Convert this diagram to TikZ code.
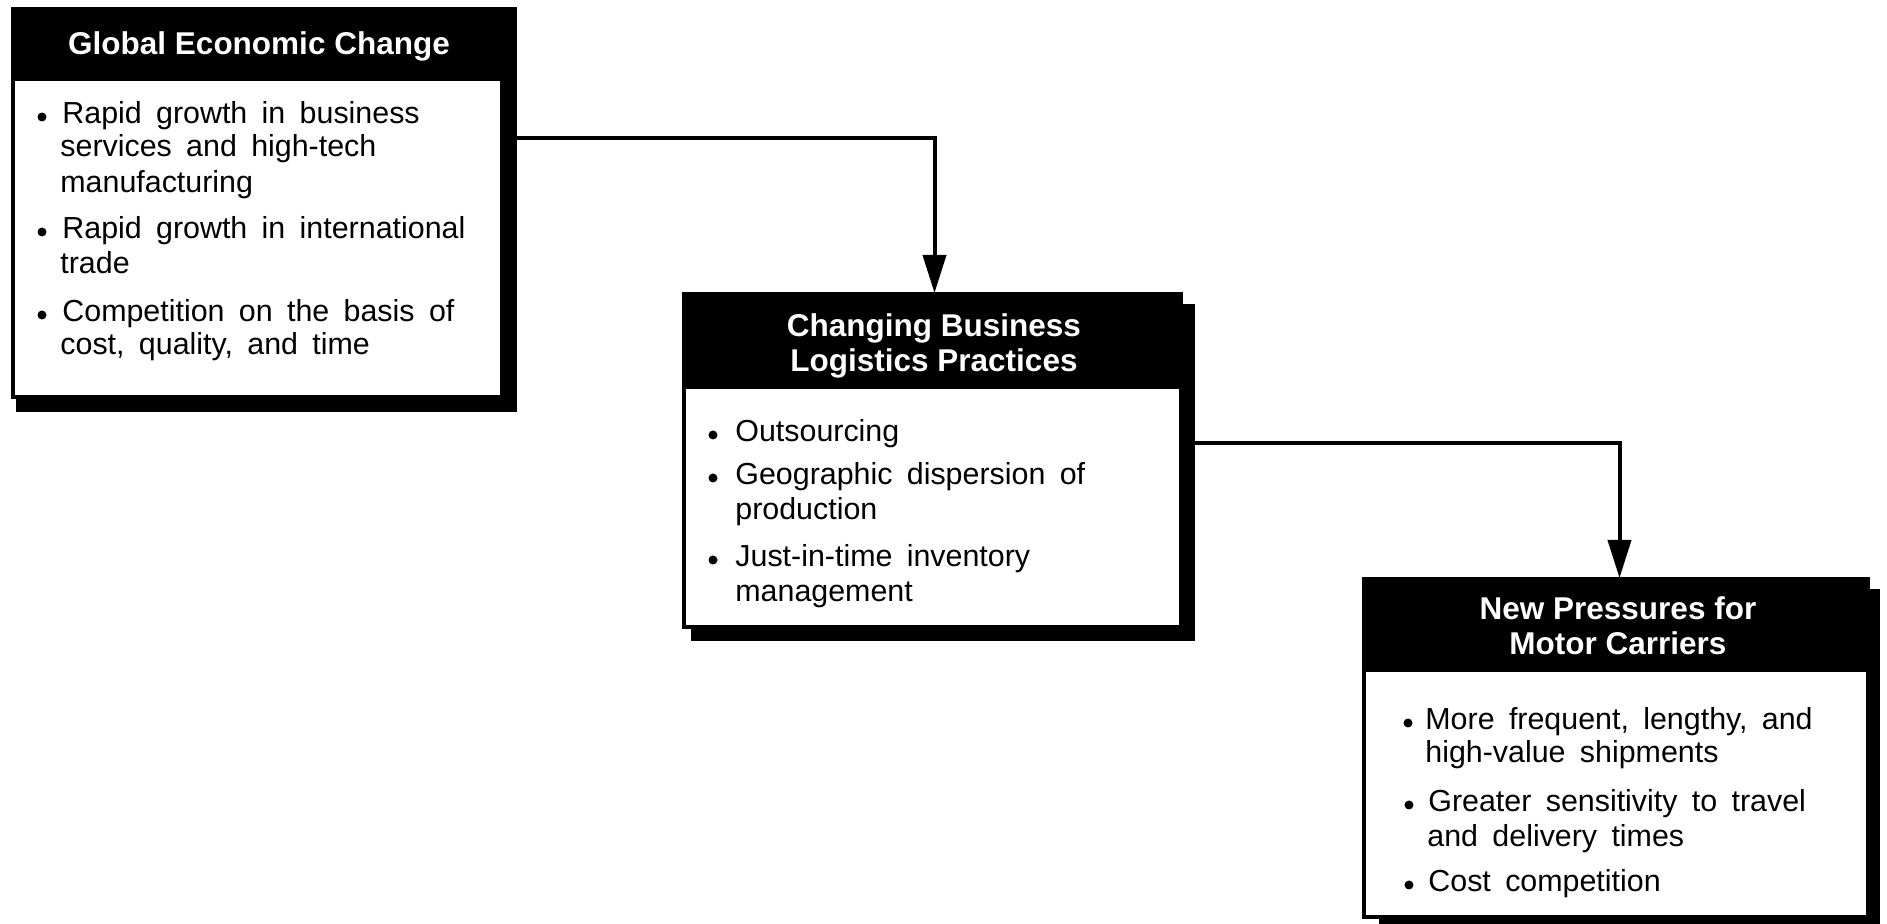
\documentclass[tikz,border=0pt]{standalone}
\usepackage{fontspec}
\setmainfont{Liberation Sans}
\newfontfamily\bodyfam{Liberation Sans}[WordSpace=1.7]
\newcommand\myBody{\bodyfam\fontsize{15.2pt}{17pt}\selectfont}
\newcommand\myHead{\fontsize{15.75pt}{17pt}\selectfont\bfseries}
\usetikzlibrary{arrows.meta}
\tikzset{
  shadowbox/.style={fill=black, inner sep=0, outer sep=0, anchor=north west},
  bodybox/.style={fill=white, draw=black, line width=2pt, inner sep=0, outer sep=0, anchor=north west},
  headbox/.style={fill=black, inner sep=0, outer sep=0, anchor=north west},
  headtext/.style={text=white, font=\myHead, anchor=base, inner sep=0},
  bodytext/.style={font=\myBody, anchor=base west, inner sep=0},
  dot/.style={circle, fill=black, minimum size=4.5pt, inner sep=0},
  conn/.style={line width=2pt, -{Triangle[width=11.5pt,length=19pt]}}
}
\begin{document}
\begin{tikzpicture}[x=0.5pt, y=-0.5pt]
\useasboundingbox (0,0) rectangle (1887,924);
% Box 1
\node[shadowbox, minimum width=501*0.5pt, minimum height=405*0.5pt] (s1) at (16,7) {};
\node[bodybox, minimum width=489*0.5pt, minimum height=388*0.5pt] (b1) at (13,9) {};
\node[headbox, minimum width=491*0.5pt, minimum height=73*0.5pt] (h1) at (12,8) {};
\node[headtext] (h1t) at (259,55) {Global Economic Change};
\node[dot] (d1a) at (42,117) {};
\node[bodytext] (t1a) at (62,124) {Rapid growth in business};
\node[bodytext] (t1b) at (60,157) {services and high-tech};
\node[bodytext] (t1c) at (60,193) {manufacturing};
\node[dot] (d1b) at (42,232) {};
\node[bodytext] (t1d) at (62,239) {Rapid growth in international};
\node[bodytext] (t1e) at (60,274) {trade};
\node[dot] (d1c) at (42,315) {};
\node[bodytext] (t1f) at (62,322) {Competition on the basis of};
\node[bodytext] (t1g) at (60,355) {cost, quality, and time};
% Box 2
\node[shadowbox, minimum width=504*0.5pt, minimum height=337*0.5pt] (s2) at (691,304) {};
\node[bodybox, minimum width=497*0.5pt, minimum height=333*0.5pt] (b2) at (684,294) {};
\node[headbox, minimum width=500*0.5pt, minimum height=96*0.5pt] (h2) at (683,293) {};
\node[headtext] (h2t) at (934,337) {Changing Business};
\node[headtext] (h2u) at (934,372) {Logistics Practices};
\node[dot] (d2a) at (713,435) {};
\node[bodytext] (t2a) at (735,442) {Outsourcing};
\node[dot] (d2b) at (713,478) {};
\node[bodytext] (t2b) at (735,485) {Geographic dispersion of};
\node[bodytext] (t2c) at (735,520) {production};
\node[dot] (d2c) at (713,560) {};
\node[bodytext] (t2d) at (735,567) {Just-in-time inventory};
\node[bodytext] (t2e) at (735,602) {management};
% Box 3
\node[shadowbox, minimum width=501*0.5pt, minimum height=335*0.5pt] (s3) at (1379,589) {};
\node[bodybox, minimum width=504*0.5pt, minimum height=338*0.5pt] (b3) at (1364,579) {};
\node[headbox, minimum width=507*0.5pt, minimum height=94*0.5pt] (h3) at (1362,578) {};
\node[headtext] (h3t) at (1618,620) {New Pressures for};
\node[headtext] (h3u) at (1618,655) {Motor Carriers};
\node[dot] (d3a) at (1408,723) {};
\node[bodytext] (t3a) at (1425,730) {More frequent, lengthy, and};
\node[bodytext] (t3b) at (1425,763) {high-value shipments};
\node[dot] (d3b) at (1409,805) {};
\node[bodytext] (t3c) at (1428,812) {Greater sensitivity to travel};
\node[bodytext] (t3d) at (1427,847) {and delivery times};
\node[dot] (d3c) at (1409,885) {};
\node[bodytext] (t3e) at (1428,892) {Cost competition};
% Connectors
\coordinate (c1) at (0,138);
\coordinate (c2) at (0,443);
\draw[conn] (s1.east |- c1) -| ([xshift=0.75pt]h2.north);
\draw[conn] (s2.east |- c2) -| ([xshift=2pt]h3.north);
\end{tikzpicture}
\end{document}
